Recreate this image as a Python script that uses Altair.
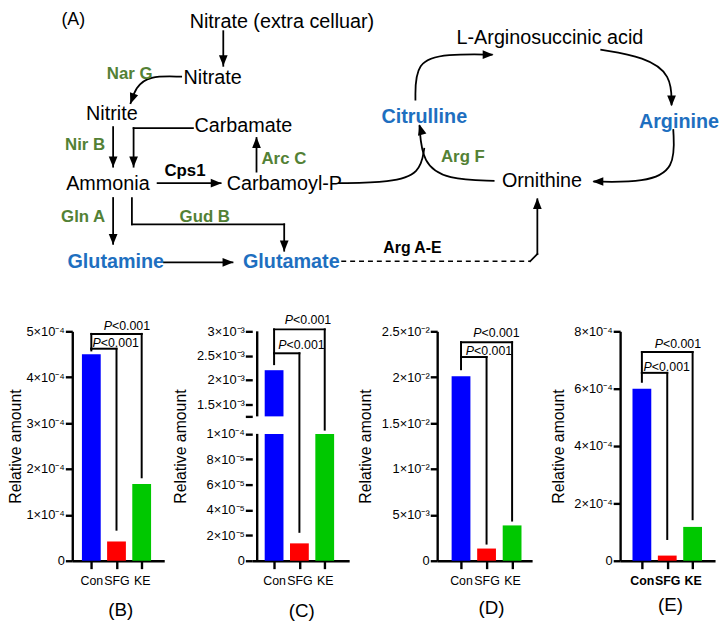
import altair as alt
import pandas as pd

FONT = "Liberation Sans"
GREEN = "#538135"
BLUE = "#1E6FC0"

# ---------------- Panel A : pathway diagram (coordinates in page pixels) ----------------
node_labels = ["(A)", "Nitrate (extra celluar)", "Nitrate", "Nitrite", "Carbamate", "Ammonia",
               "Carbamoyl-P", "L-Arginosuccinic acid", "Ornithine",
               "Nar G", "Nir B", "Arc C", "Gln A", "Gud B", "Arg F",
               "Cps1", "Arg A-E",
               "Glutamine", "Glutamate", "Citrulline", "Arginine"]
node_x = [74, 285, 215, 113, 246, 109, 287.5, 556, 548,
          131, 86, 287, 84, 207, 468,
          187, 417,
          117, 294.5, 429, 686.5]
node_y = [17, 18.5, 75, 112, 124, 183, 183, 34.5, 179.5,
          71.5, 143, 157.5, 215.5, 215.5, 155,
          169.5, 247,
          261, 261, 114.5, 119.5]
node_size = [18] + [20] * 8 + [17] * 6 + [17, 16] + [20] * 4
node_color = ["black"] * 9 + [GREEN] * 6 + ["black"] * 2 + [BLUE] * 4
node_bold = [False] * 9 + [True] * 12

# straight connectors: x1, y1, x2, y2
seg_x1 = [225.7, 114.3, 195, 135, 259.3, 159.3, 114.3, 133.3, 133.3, 287.3, 165.7, 536, 543.3]
seg_y1 = [28, 125, 126, 126, 170, 181.7, 196.7, 196.7, 223.3, 223.3, 261.7, 260.7, 253.3]
seg_x2 = [225.7, 114.3, 135, 135, 259.3, 223, 114.3, 133.3, 287.3, 287.3, 235, 543.3, 543.3]
seg_y2 = [63, 165, 126, 165, 136, 181.7, 243, 223.3, 223.3, 250, 261.7, 253.3, 198]
dash_x1 = [345]
dash_y1 = [260.7]
dash_x2 = [536]
dash_y2 = [260.7]

# curved connectors (B-spline control points)
curve_id = ["narg"] * 4 + ["carbp"] * 4 + ["argf"] * 4 + ["cit"] * 4 + ["lasa"] * 4 + ["arg"] * 4
curve_x = [184, 150, 137, 131.7,
           342, 395, 425, 429,
           500, 452, 427, 424,
           420, 420, 452, 498,
           607, 652, 679, 679,
           680.7, 683, 652, 600]
curve_y = [74, 73, 85, 101.7,
           181.7, 181, 172, 146,
           179.3, 178, 162, 123,
           98, 58, 51, 51.7,
           46.7, 54, 72, 103,
           127, 168, 181, 180]

# arrow heads: tip position and direction (degrees clockwise from up)
head_x = [225.7, 114.3, 135, 259.3, 224, 114.3, 287.3, 236, 543.3, 131.7, 424, 499, 679, 599]
head_y = [63.3, 165.7, 165.7, 135, 181.7, 244, 250.7, 261.7, 196.7, 101.7, 122, 51.7, 104, 180]
head_angle = [180, 180, 180, 0, 90, 180, 180, 90, 0, 200, 345, 90, 180, 270]

# ---------------- Panels B-E : bar charts ----------------
groups = ["Con", "SFG", "KE"]
bar_colors = ["#0000FF", "#FF0000", "#00C800"]

B_vals = [4.5e-4, 4.2e-5, 1.67e-4]
C_vals = [2.2e-3, 1.37e-5, 1.0e-4]
D_vals = [2.01e-2, 1.33e-3, 3.85e-3]
E_vals = [6.0e-4, 1.8e-5, 1.18e-4]

B_ticks = [0, 1e-4, 2e-4, 3e-4, 4e-4, 5e-4]
B_tick_labels = ["0", "1×10⁻⁴", "2×10⁻⁴", "3×10⁻⁴", "4×10⁻⁴", "5×10⁻⁴"]
C_ticks = [0, 2e-5, 4e-5, 6e-5, 8e-5, 1e-4, 1.25e-3, 1.5e-3, 2e-3, 2.5e-3, 3e-3]
C_tick_labels = ["0", "2×10⁻⁵", "4×10⁻⁵", "6×10⁻⁵", "8×10⁻⁵", "1×10⁻⁴", "",
                 "1.5×10⁻³", "2×10⁻³", "2.5×10⁻³", "3×10⁻³"]
D_ticks = [0, 5e-3, 1e-2, 1.5e-2, 2e-2, 2.5e-2]
D_tick_labels = ["0", "5×10⁻³", "1×10⁻²", "1.5×10⁻²", "2×10⁻²", "2.5×10⁻²"]
E_ticks = [0, 2e-4, 4e-4, 6e-4, 8e-4]
E_tick_labels = ["0", "2×10⁻⁴", "4×10⁻⁴", "6×10⁻⁴", "8×10⁻⁴"]

# C axis break: lower segment top, upper segment bottom
C_break = [1e-4, 1.25e-3]

# bracket levels: inner-left-leg bottom, inner top, outer top, SFG leg end, KE leg end
B_brackets = [4.584e-4, 4.621e-4, 4.944e-4, 0.677e-4, 1.819e-4]
C_brackets = [2.325e-3, 2.548e-3, 3.04e-3, 2.28e-5, 3.79e-4]
D_brackets = [2.087e-2, 2.220e-2, 2.382e-2, 1.87e-3, 4.38e-3]
E_brackets = [6.241e-4, 6.552e-4, 7.276e-4, 0.759e-4, 1.448e-4]

# P-value labels: (x split position, y) for inner and outer comparison
B_plab = [(0.375, 4.735e-4), (0.82, 5.108e-4)]
C_plab = [(0.49, 2.716e-3), (0.75, 3.223e-3)]
D_plab = [(0.51, 2.285e-2), (0.80, 2.484e-2)]
E_plab = [(0.39, 6.769e-4), (0.83, 7.562e-4)]
p_text = ["P", "<0.001"]

PANEL_H = 232


def label_expr(values, labels):
    parts = []
    for v, l in zip(values, labels):
        tol = abs(v) * 1e-6 + 1e-12
        parts.append(f"abs(datum.value - {v!r}) < {tol!r} ? '{l}' : ")
    return "".join(parts) + "''"


def diagram():
    xs = alt.Scale(domain=[73, 728], nice=False, zero=False)
    ys = alt.Scale(domain=[8, 298], reverse=True, nice=False, zero=False)
    nodes = pd.DataFrame(dict(label=node_labels, x=node_x, y=node_y, fs=node_size,
                              col=node_color, bold=node_bold))
    segs = pd.DataFrame(dict(x=seg_x1, y=seg_y1, x2=seg_x2, y2=seg_y2))
    dsegs = pd.DataFrame(dict(x=dash_x1, y=dash_y1, x2=dash_x2, y2=dash_y2))
    curves = pd.DataFrame(dict(pid=curve_id, x=curve_x, y=curve_y,
                               idx=list(range(len(curve_x)))))
    heads = pd.DataFrame(dict(x=head_x, y=head_y, ang=head_angle))

    X = lambda f="x": alt.X(f"{f}:Q", scale=xs, axis=None)
    Y = lambda f="y": alt.Y(f"{f}:Q", scale=ys, axis=None)

    rules = alt.Chart(segs).mark_rule(color="black", strokeWidth=1.8, strokeCap="square").encode(
        x=X(), y=Y(), x2="x2:Q", y2="y2:Q")
    drules = alt.Chart(dsegs).mark_rule(color="black", strokeWidth=1.6, strokeDash=[5, 4]).encode(
        x=X(), y=Y(), x2="x2:Q", y2="y2:Q")
    lines = alt.Chart(curves).mark_line(color="black", strokeWidth=1.8, interpolate="basis").encode(
        x=X(), y=Y(), detail="pid:N", order="idx:Q")
    arrows = alt.Chart(heads).mark_point(shape="M0,0L-0.8,2L0.8,2Z", filled=True, opacity=1,
                                         size=121, color="black").encode(
        x=X(), y=Y(), angle=alt.Angle("ang:Q", scale=None))
    t_reg = alt.Chart(nodes).transform_filter("!datum.bold").mark_text(
        font=FONT, align="center", baseline="middle").encode(
        x=X(), y=Y(), text="label:N", size=alt.Size("fs:Q", scale=None),
        color=alt.Color("col:N", scale=None))
    t_bold = alt.Chart(nodes).transform_filter("datum.bold").mark_text(
        font=FONT, align="center", baseline="middle", fontWeight="bold").encode(
        x=X(), y=Y(), text="label:N", size=alt.Size("fs:Q", scale=None),
        color=alt.Color("col:N", scale=None))
    return alt.layer(rules, drules, lines, arrows, t_reg, t_bold).properties(width=655, height=290)


def panel(vals, y_dom, y_ticks, y_labels, x_dom, width, levels, plabs, title, title_dx,
          title_offset, ytitle_x, bold_x=False, y_rng=None, brk=None):
    xs = alt.Scale(domain=x_dom, nice=False, zero=False)
    if y_rng is None:
        ys = alt.Scale(domain=y_dom, nice=False, zero=False)
    else:
        ys = alt.Scale(domain=y_dom, range=y_rng, nice=False, zero=False)
    names = "[" + ",".join(f"'{g}'" for g in groups) + "]"
    xaxis = alt.Axis(values=list(range(len(groups))), labelExpr=f"{names}[datum.value]", title=None,
                     grid=False, tickSize=8, tickWidth=2.4, domainWidth=2.4, domainColor="black",
                     tickColor="black", labelColor="black", labelFont=FONT, labelFontSize=12.5,
                     labelFontWeight="bold" if bold_x else "normal", labelPadding=6, labelAngle=0)
    yaxis = alt.Axis(values=y_ticks, labelExpr=label_expr(y_ticks, y_labels),
                     title="Relative amount", titleFont=FONT, titleFontSize=16,
                     titleFontWeight="normal", titleColor="black", titleX=ytitle_x,
                     titleY=PANEL_H / 2, titleAngle=270, titleBaseline="bottom", titleAlign="center",
                     grid=False, tickSize=7, tickWidth=2.4, domain=brk is None, domainWidth=2.4,
                     domainColor="black", tickColor="black", labelColor="black", labelFont=FONT,
                     labelFontSize=13, labelPadding=1)
    X = lambda: alt.X("x:Q", scale=xs, axis=xaxis)
    Y = lambda: alt.Y("y:Q", scale=ys, axis=yaxis)

    rows = []
    for i, (v, c) in enumerate(zip(vals, bar_colors)):
        if brk is not None and v > brk[1]:
            rows.append(dict(x=i, y=brk[0], y2=0, c=c))
            rows.append(dict(x=i, y=v, y2=brk[1], c=c))
        else:
            rows.append(dict(x=i, y=v, y2=0, c=c))
    bars = alt.Chart(pd.DataFrame(rows)).mark_bar(size=19).encode(
        x=X(), y=Y(), y2="y2:Q", color=alt.Color("c:N", scale=None))

    legb, itop, otop, send, kend = levels
    br = pd.DataFrame(dict(
        x=[0, 0, 1, 0, 0, 2], x2=[0, 1, 1, 0, 2, 2],
        y=[legb, itop, itop, itop, otop, otop], y2=[itop, itop, send, otop, otop, kend]))
    brackets = alt.Chart(br).mark_rule(color="black", strokeWidth=2, strokeCap="square").encode(
        x=X(), x2="x2:Q", y=Y(), y2="y2:Q")

    pl = pd.DataFrame(dict(x=[p[0] for p in plabs], y=[p[1] for p in plabs],
                           a=[p_text[0]] * len(plabs), b=[p_text[1]] * len(plabs)))
    p1 = alt.Chart(pl).mark_text(font=FONT, fontSize=12.5, fontStyle="italic", align="right",
                                 baseline="middle", color="black").encode(x=X(), y=Y(), text="a:N")
    p2 = alt.Chart(pl).mark_text(font=FONT, fontSize=12.5, align="left", baseline="middle",
                                 color="black").encode(x=X(), y=Y(), text="b:N")
    layers = [bars, brackets, p1, p2]
    if brk is not None:
        ax = pd.DataFrame(dict(x=[x_dom[0], x_dom[0]], y=[0, brk[1]], y2=[brk[0], y_dom[-1]]))
        layers.append(alt.Chart(ax).mark_rule(color="black", strokeWidth=2.4).encode(
            x=X(), y=Y(), y2="y2:Q"))
    return alt.layer(*layers).properties(
        width=width, height=PANEL_H,
        title=alt.TitleParams(text=title, orient="bottom", anchor="middle", fontSize=19,
                              fontWeight="normal", font=FONT, color="black",
                              offset=title_offset, dx=title_dx))


pB = panel(B_vals, [0, 5e-4], B_ticks, B_tick_labels, [-0.56, 2.70], 93, B_brackets, B_plab,
           "(B)", 2.5, 14, -49)
pC = panel(C_vals, [0, C_break[0], C_break[1], 3e-3], C_ticks, C_tick_labels, [-0.667, 2.77], 98,
           C_brackets, C_plab, "(C)", 1, 15, -64, y_rng=[PANEL_H, 103.7, 86, 0], brk=C_break)
pD = panel(D_vals, [0, 2.5e-2], D_ticks, D_tick_labels, [-0.74, 2.59], 96, D_brackets, D_plab,
           "(D)", 7, 12, -64)
pE = panel(E_vals, [0, 8e-4], E_ticks, E_tick_labels, [-0.663, 2.69], 96, E_brackets, E_plab,
           "(E)", 3, 9, -54, bold_x=True)

row = alt.hconcat(pB, pC, pD, pE, spacing=89, bounds="flush")
chart = alt.vconcat(diagram(), row, spacing=33.5, bounds="flush").properties(
    padding=0, background="white").configure_view(stroke=None)

chart.save("out.html", embed_options={"renderer": "svg", "actions": False})
